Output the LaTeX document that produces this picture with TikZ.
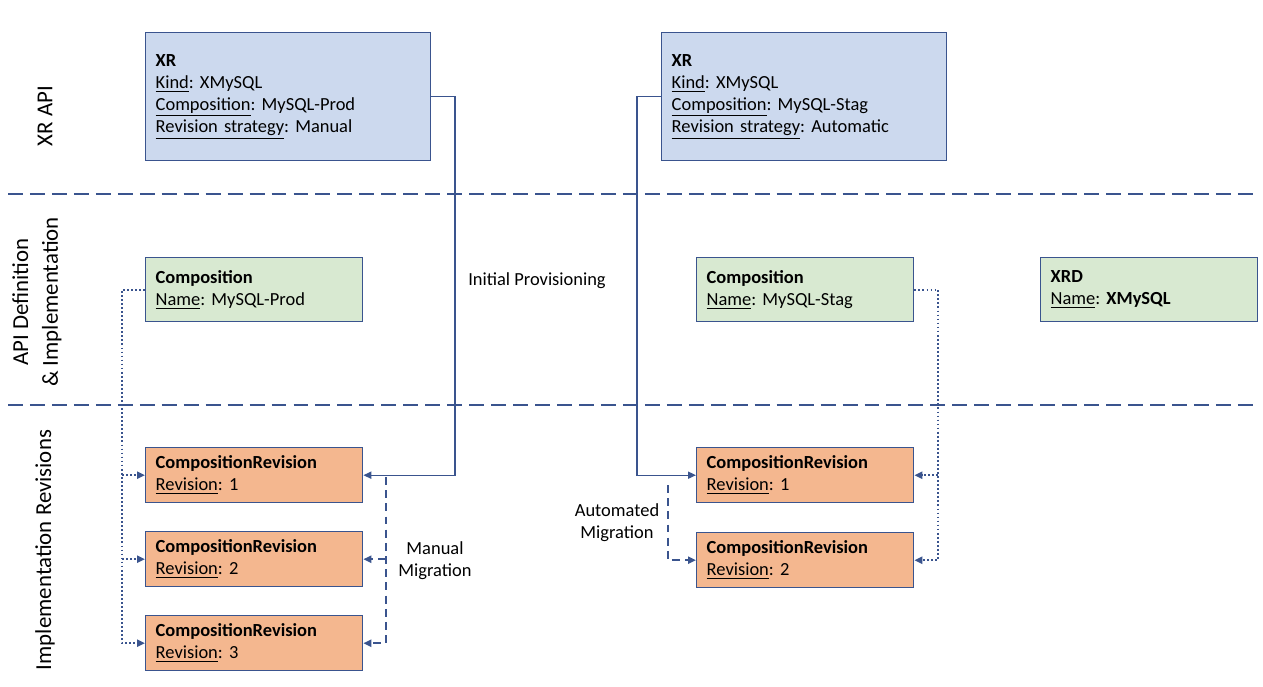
\documentclass[tikz,border=0pt]{standalone}
\usepackage{fontspec}
\setmainfont{Carlito}
\frenchspacing
\usetikzlibrary{arrows.meta}
\definecolor{linec}{RGB}{58,84,142}
\definecolor{xrfill}{RGB}{204,217,238}
\definecolor{compfill}{RGB}{216,233,209}
\definecolor{revfill}{RGB}{244,183,143}
\tikzset{
    box/.style={draw=linec,line width=0.8pt,align=left,inner xsep=0.2cm,inner ysep=2pt,font=\fontsize{10.5}{12.5}\selectfont\frenchspacing,anchor=north west},
    xrbox/.style={box,fill=xrfill,text width=5.3cm,minimum height=2.56cm},
    compbox/.style={box,fill=compfill,text width=3.94cm,minimum height=1.28cm},
    revbox/.style={box,fill=revfill,text width=3.94cm,minimum height=1.1cm},
    lane/.style={rotate=90,align=center,font=\fontsize{13}{17}\selectfont},
    note/.style={align=center,font=\fontsize{10.5}{12.5}\selectfont},
    sep/.style={draw=linec,line width=1.1pt,dash pattern=on 8.5pt off 4pt},
    tip/.style={-{Triangle[length=4.5pt,width=4pt]}},
    conn/.style={draw=linec,line width=0.8pt,tip},
    mig/.style={draw=linec,line width=1.1pt,dash pattern=on 4.5pt off 3pt,tip},
    dots/.style={draw=linec,line width=1.3pt,dash pattern=on 1pt off 1.3pt,tip}
}
\begin{document}
\begin{tikzpicture}[x=0.02cm,y=-0.02cm]
                \useasboundingbox (0,0) rectangle (1263,686);
                \draw[sep] (8,194) -- (1255,194);
                \draw[sep] (8,405) -- (1255,405);
                \node[lane] (lanexr) at (45,116) {XR API};
                \node[lane] (laneapi) at (37,302) {API Definition\\\& Implementation};
                \node[lane] (lanerev) at (45,550) {Implementation Revisions};
                \node[xrbox] (xrprod) at (145,32) {\textbf{XR}\\\underline{Kind}: XMySQL\\\underline{Composition}: MySQL-Prod\\\underline{Revision strategy}: Manual};
                \node[xrbox] (xrstag) at (661,32) {\textbf{XR}\\\underline{Kind}: XMySQL\\\underline{Composition}: MySQL-Stag\\\underline{Revision strategy}: Automatic};
                \node[compbox] (compprod) at (145,257) {\textbf{Composition}\\\underline{Name}: MySQL-Prod};
                \node[compbox] (compstag) at (696,257) {\textbf{Composition}\\\underline{Name}: MySQL-Stag};
                \node[compbox] (xrd) at (1040,257) {\textbf{XRD}\\\underline{Name}: \textbf{XMySQL}};
                \foreach \n/\y in {1/447,2/531,3/615}
                {
                    \node[revbox] (revp\n) at (145,\y) {\textbf{CompositionRevision}\\\underline{Revision}: \n};
                }
                \foreach \n/\y in {1/447,2/532}
                {
                    \node[revbox] (revs\n) at (696,\y) {\textbf{CompositionRevision}\\\underline{Revision}: \n};
                }
                \node[note] (initial) at (537,281) {Initial Provisioning};
                \node[note] (manual) at (435,561) {Manual\\Migration};
                \node[note] (auto) at (617,523) {Automated\\Migration};
                \coordinate (provx) at (455,0);
                \coordinate (autox) at (637,0);
                \coordinate (manx) at (386,0);
                \coordinate (mantop) at (386,477);
                \coordinate (migtop) at (668,485);
                \coordinate (dotl) at (122,0);
                \coordinate (dotr) at (938,0);
                \draw[conn] (xrprod.east) -| (provx |- revp1.east) -- (revp1.east);
                \draw[conn] (xrstag.west) -| (autox |- revs1.west) -- (revs1.west);
                \draw[mig] (mantop) -- (manx |- revp3.east) -- (revp3.east);
                \draw[mig] (manx |- revp2.east) -- (revp2.east);
                \draw[mig] (migtop) -- (migtop |- revs2.west) -- (revs2.west);
                \draw[dots] (compprod.west) -| (dotl |- revp3.west) -- (revp3.west);
                \foreach \n in {1,2}
                {
                    \draw[dots] (dotl |- revp\n.west) -- (revp\n.west);
                }
                \draw[dots] (compstag.east) -| (dotr |- revs2.east) -- (revs2.east);
                \draw[dots] (dotr |- revs1.east) -- (revs1.east);
\end{tikzpicture}
\end{document}
